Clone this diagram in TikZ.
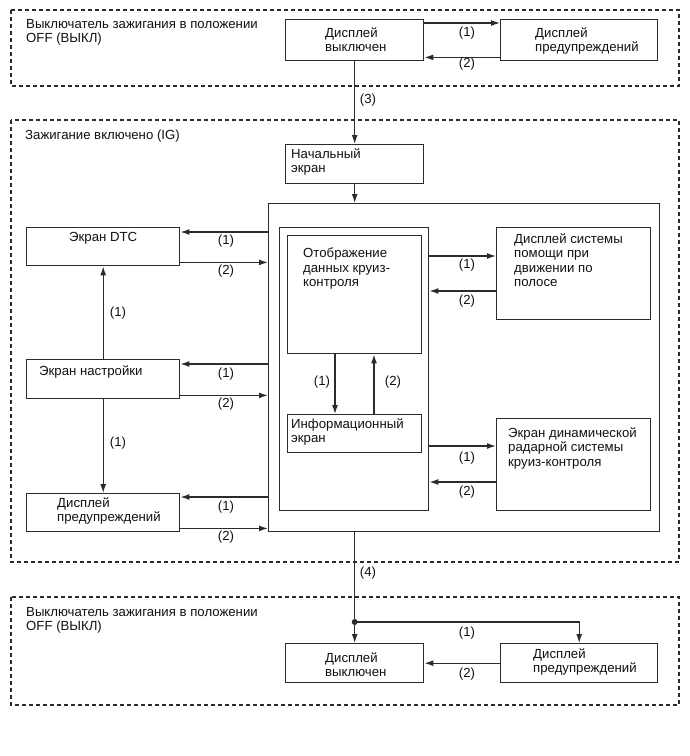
\documentclass[tikz,border=0pt]{standalone}
\usepackage{fontspec}
\setmainfont{Liberation Sans}
\usetikzlibrary{arrows.meta,calc}
\definecolor{ln}{HTML}{2B2B2B}
\definecolor{tx}{HTML}{111111}
\tikzset{
  box/.style={draw=ln, line width=1.4pt, inner sep=0pt, anchor=north west},
  zone/.style={draw=ln, line width=1.3pt, dash pattern=on 4pt off 3pt},
  txt/.style={inner sep=0pt, anchor=north west, align=left, text=tx, font=\fontsize{13.2}{14.5}\selectfont},
  lbl/.style={inner sep=0pt, text=tx, font=\fontsize{13.2}{14.5}\selectfont},
  arr/.style={draw=ln, line width=1.3pt, -{Latex[length=9pt,width=6pt]}}
}
\newcommand{\bx}[5]{\node[box, minimum width=#4pt-#2pt, minimum height=#5pt-#3pt] (#1) at (#2,#3) {};}
\begin{document}
\begin{tikzpicture}[x=1pt,y=-1pt]
\useasboundingbox (0,0) rectangle (690,756);
% zones
\draw[zone] (11,10) rectangle (679,86);
\draw[zone] (11,120) rectangle (679,562);
\draw[zone] (11,597) rectangle (679,705);
\node[txt] (t1) at (26,19) {Выключатель зажигания в положении\\OFF (ВЫКЛ)};
\node[txt] (t2) at (25,130) {Зажигание включено (IG)};
\node[txt] (t3) at (26,607) {Выключатель зажигания в положении\\OFF (ВЫКЛ)};
% boxes
\bx{offTop}{285}{19}{423}{60}
\bx{warnTop}{500}{19}{657}{60}
\bx{start}{285}{144}{423}{183}
\bx{big}{268}{203}{659}{531}
\bx{inner}{279}{227}{428}{510}
\bx{cruise}{287}{235}{421}{353}
\bx{info}{287}{414}{421}{452}
\bx{lane}{496}{227}{650}{319}
\bx{radar}{496}{418}{650}{510}
\bx{dtc}{26}{227}{179}{265}
\bx{setup}{26}{359}{179}{398}
\bx{warnL}{26}{493}{179}{531}
\bx{offBot}{285}{643}{423}{682}
\bx{warnBot}{500}{643}{657}{682}
% texts
\node[txt] (x1) at (325,27) {Дисплей\\выключен};
\node[txt] (x2) at (535,27) {Дисплей\\предупреждений};
\node[txt] (x3) at (291,148) {Начальный\\экран};
\node[txt] (x4) at (69,232) {Экран DTC};
\node[txt] (x5) at (39,365) {Экран настройки};
\node[txt] (x6) at (57,497) {Дисплей\\предупреждений};
\node[txt] (x7) at (303,248) {Отображение\\данных круиз-\\контроля};
\node[txt] (x8) at (291,418) {Информационный\\экран};
\node[txt] (x9) at (514,233) {Дисплей системы\\помощи при\\движении по\\полосе};
\node[txt] (x10) at (508,427) {Экран динамической\\радарной системы\\круиз-контроля};
\node[txt] (x11) at (325,652) {Дисплей\\выключен};
\node[txt] (x12) at (533,648) {Дисплей\\предупреждений};
% top arrows
\coordinate (p1) at ($(offTop.north east)+(0,4)$);
\coordinate (p2) at ($(warnTop.south west)+(0,-4)$);
\draw[arr] (p1) -- (p1 -| warnTop.west);
\draw[arr] (p2) -- (p2 -| offTop.east);
\node[lbl] (l1) at (467,33) {(1)};
\node[lbl] (l2) at (467,64) {(2)};
% trunk
\draw[arr] (offTop.south) -- (offTop.south |- start.north);
\node[lbl] (l3) at (368,100) {(3)};
\draw[arr] (offTop.south |- start.south) -- (offTop.south |- big.north);
% left arrows
\coordinate (d1) at ($(dtc.north east)+(0,5)$);
\coordinate (d2) at ($(dtc.south east)+(0,-4)$);
\draw[arr] (big.west |- d1) -- (d1);
\draw[arr] (d2) -- (big.west |- d2);
\node[lbl] (l4) at (226,241) {(1)};
\node[lbl] (l5) at (226,271) {(2)};
\coordinate (s1) at ($(setup.north east)+(0,5)$);
\coordinate (s2) at ($(setup.south east)+(0,-4)$);
\draw[arr] (big.west |- s1) -- (s1);
\draw[arr] (s2) -- (big.west |- s2);
\node[lbl] (l6) at (226,374) {(1)};
\node[lbl] (l7) at (226,404) {(2)};
\coordinate (w1) at ($(warnL.north east)+(0,4)$);
\coordinate (w2) at ($(warnL.south east)+(0,-4)$);
\draw[arr] (big.west |- w1) -- (w1);
\draw[arr] (w2) -- (big.west |- w2);
\node[lbl] (l8) at (226,507) {(1)};
\node[lbl] (l9) at (226,537) {(2)};
% left vertical
\draw[arr] (setup.north) -- (dtc.south);
\node[lbl] (l10) at (118,313) {(1)};
\draw[arr] (setup.south) -- (warnL.north);
\node[lbl] (l11) at (118,443) {(1)};
% right arrows
\coordinate (r1) at ($(lane.north west)+(0,29)$);
\coordinate (r2) at ($(lane.north west)+(0,64)$);
\draw[arr] (inner.east |- r1) -- (r1);
\draw[arr] (r2) -- (inner.east |- r2);
\node[lbl] (l12) at (467,265) {(1)};
\node[lbl] (l13) at (467,301) {(2)};
\coordinate (q1) at ($(radar.north west)+(0,28)$);
\coordinate (q2) at ($(radar.north west)+(0,64)$);
\draw[arr] (inner.east |- q1) -- (q1);
\draw[arr] (q2) -- (inner.east |- q2);
\node[lbl] (l14) at (467,458) {(1)};
\node[lbl] (l15) at (467,492) {(2)};
% cruise <-> info
\coordinate (c1) at ($(cruise.south west)+(48,0)$);
\coordinate (c2) at ($(cruise.south west)+(87,0)$);
\draw[arr] (c1) -- (c1 |- info.north);
\draw[arr] (c2 |- info.north) -- (c2);
\node[lbl] (l16) at (322,382) {(1)};
\node[lbl] (l17) at (393,382) {(2)};
% bottom
\draw[arr] (offTop.south |- big.south) -- (offBot.north);
\node[lbl] (l18) at (368,573) {(4)};
\coordinate (dot) at (offBot.north |- 0,622);
\fill[ln] (dot) circle (3pt);
\draw[arr] (dot) -| (warnBot.north);
\node[lbl] (l19) at (467,633) {(1)};
\draw[arr] (warnBot.west) -- (warnBot.west -| offBot.east);
\node[lbl] (l20) at (467,674) {(2)};
\end{tikzpicture}
\end{document}
